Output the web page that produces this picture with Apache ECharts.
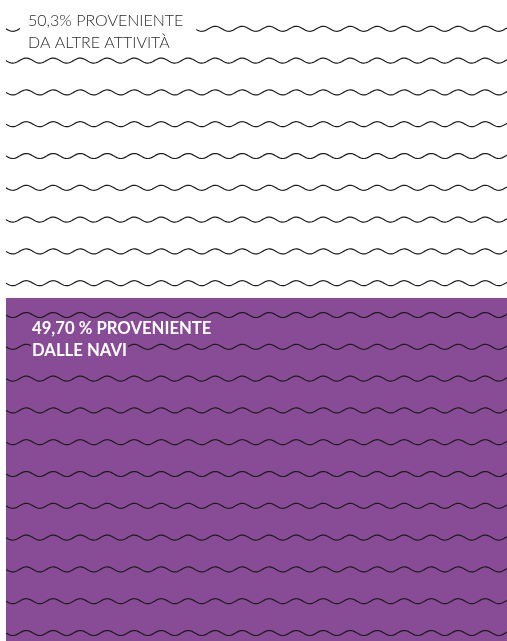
<!DOCTYPE html>
<html><head><meta charset="utf-8">
<script src="https://cdn.jsdelivr.net/npm/echarts@6/dist/echarts.min.js"></script>
<style>html,body{margin:0;padding:0;background:#fff}#c{width:507px;height:641px}</style>
</head><body><div id="c"></div>
<script>
// ---- data ----
const categories = ['Provenienza'];
const shareNavi = [49.7];
const shareAltre = [50.3];
const labelAltre = ['50,3% PROVENIENTE', 'DA ALTRE ATTIVITÀ'];
const labelNavi = ['49,70 % PROVENIENTE', 'DALLE NAVI'];
const waveRows = [0,1,2,3,4,5,6,7,8,9,10,11,12,13,14,15,16,17,18,19];

// ---- style ----
const PURPLE = '#884b95';
const FONT = 'Lato, "Open Sans", sans-serif';

const chart = echarts.init(document.getElementById('c'), null, {renderer: 'canvas'});

function renderWaves(params, api) {
  const cs = params.coordSys;
  const x0 = cs.x, x1 = cs.x + cs.width;
  const children = waveRows.map(function (row) {
    const y0 = cs.y + cs.height - 8 - row * 31.8;
    const pts = [];
    for (let x = x0; x <= x1 + 0.5; x += 1) {
      pts.push([x, y0 + 2.5 * Math.sin(2 * Math.PI * (x - x0) / 27)]);
    }
    return {type: 'polyline', shape: {points: pts}, silent: true,
      style: {stroke: '#1c1c1c', lineWidth: 1.2, fill: null}};
  });
  return {type: 'group', children: children};
}

chart.setOption({
  animation: false,
  title: [
    {text: labelAltre.join('\n'), left: 20, top: 8, padding: [2, 13, 0, 8],
      backgroundColor: '#ffffff', zlevel: 2,
      textStyle: {color: '#2b2b2b', fontFamily: FONT, fontWeight: 300, fontSize: 16, lineHeight: 22}},
    {text: labelNavi.map(s => '{n|' + s + '}').join('\n'), left: 31, top: 318, padding: 0, zlevel: 2,
      textStyle: {rich: {n: {color: '#ffffff', fontFamily: FONT, fontWeight: 'bold', fontSize: 16.7,
        lineHeight: 22, height: 22, backgroundColor: PURPLE, padding: [0, 1, 0, 1]}}}}
  ],
  grid: {left: 6, right: 0, top: -49, bottom: 0, outerBoundsMode: 'none'},
  xAxis: {type: 'category', data: categories, show: false},
  yAxis: {type: 'value', min: 0, max: 100, show: false},
  series: [
    {name: 'Navi', type: 'bar', stack: 'tot', data: shareNavi, barWidth: '100%',
      itemStyle: {color: PURPLE}, emphasis: {disabled: true}, silent: true},
    {name: 'Altre attività', type: 'bar', stack: 'tot', data: shareAltre, barWidth: '100%',
      itemStyle: {color: '#ffffff'}, emphasis: {disabled: true}, silent: true},
    {name: 'onde', type: 'custom', zlevel: 1, renderItem: renderWaves, silent: true, clip: false,
      data: [[0, 0]]}
  ]
});
</script></body></html>
